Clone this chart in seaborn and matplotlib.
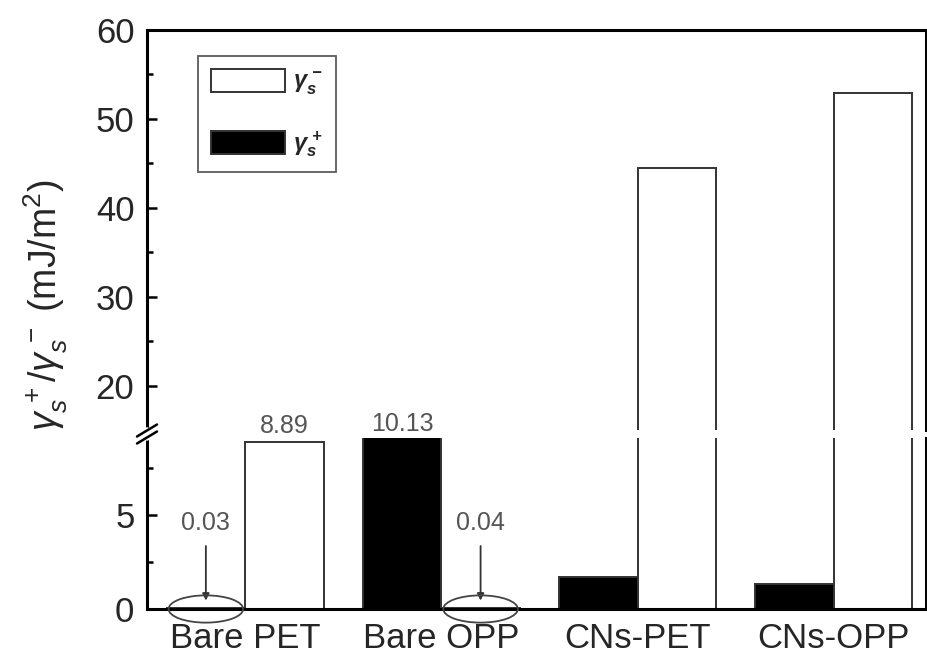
import numpy as np
import pandas as pd
import matplotlib
matplotlib.use("Agg")
import matplotlib.pyplot as plt
import seaborn as sns
from matplotlib.patches import Patch, Ellipse

# ---- data ----
categories = ["Bare PET", "Bare OPP", "CNs-PET", "CNs-OPP"]
gamma_plus = [0.03, 10.13, 1.70, 1.32]    # black bars
gamma_minus = [8.89, 0.04, 44.5, 52.9]    # white bars
series_names = ["plus", "minus"]

sns.set_theme(style="white")
plt.rcParams["font.family"] = ["Liberation Sans", "DejaVu Sans"]
plt.rcParams["mathtext.fontset"] = "custom"
plt.rcParams["mathtext.rm"] = "Liberation Sans"
plt.rcParams["mathtext.it"] = "Liberation Sans:italic"
plt.rcParams["mathtext.bf"] = "Liberation Sans:bold:italic"

df = pd.DataFrame({
    "cat": categories * 2,
    "series": ["plus"] * 4 + ["minus"] * 4,
    "value": gamma_plus + gamma_minus,
})
palette = {"plus": "black", "minus": "white"}

W, H = 928, 663
fig = plt.figure(figsize=(W / 100, H / 100), dpi=100)
left, right = 147 / W, 926 / W
y0, ybrk_lo, ybrk_hi, ytop = 609, 438, 430, 30
ax_lo = fig.add_axes([left, 1 - y0 / H, right - left, (y0 - ybrk_lo) / H])
ax_hi = fig.add_axes([left, 1 - ybrk_hi / H, right - left, (ybrk_hi - ytop) / H])
ax_hi.patch.set_visible(False)

for ax in (ax_lo, ax_hi):
    sns.barplot(data=df, x="cat", y="value", hue="series", hue_order=series_names,
                order=categories, palette=palette, edgecolor="#333333",
                linewidth=1.4, width=0.8, legend=False, ax=ax, saturation=1)
    ax.set_xlim(-0.5, 3.47)
    ax.set_xlabel("")
    ax.set_ylabel("")
    for s in ax.spines.values():
        s.set_color("black")
        s.set_linewidth(2.2)
    ax.tick_params(axis="y", which="both", direction="in", left=True, right=False,
                   labelsize=25, pad=9, color="black", width=1.8)
    ax.tick_params(axis="y", which="major", length=7)
    ax.tick_params(axis="y", which="minor", length=4)

ax_lo.set_ylim(0, 9.1)
ax_lo.set_yticks([0, 5])
ax_lo.set_yticks([2.5, 7.5], minor=True)
ax_lo.spines["top"].set_visible(False)
ax_lo.tick_params(axis="x", length=0, labelsize=25, pad=9)

ax_hi.set_ylim(15, 60)
ax_hi.set_yticks([20, 30, 40, 50, 60])
ax_hi.set_yticks([25, 35, 45, 55], minor=True)
ax_hi.spines["bottom"].set_visible(False)
ax_hi.set_xticks([])

# break marks on left spine
bx = left
fig.add_artist(plt.Line2D([bx, bx], [1 - 438 / H, 1 - 430 / H], color="white",
                          lw=4, transform=fig.transFigure, zorder=5))
for dy in (-3.5, 3.5):
    yc = 1 - (434 + dy) / H
    fig.add_artist(plt.Line2D([bx - 10 / W, bx + 10 / W], [yc - 6 / H, yc + 6 / H],
                              color="black", lw=1.8, transform=fig.transFigure, zorder=6))

# value labels
off = 0.2
txt_c = "#555555"
ax_lo.text(0 + off, gamma_minus[0] + 0.2, f"{gamma_minus[0]:.2f}", ha="center",
           va="bottom", fontsize=18, color=txt_c, clip_on=False, zorder=10)
ax_lo.text(1 - off, min(gamma_plus[1], 9.1) + 0.12, f"{gamma_plus[1]:.2f}", ha="center",
           va="bottom", fontsize=18, color=txt_c, clip_on=False, zorder=10)

for xc, val in [(0 - off, gamma_plus[0]), (1 + off, gamma_minus[1])]:
    ax_lo.text(xc, 4.6, f"{val:.2f}", ha="center", va="center", fontsize=18, color=txt_c)
    ax_lo.annotate("", xy=(xc, 0.3), xytext=(xc, 3.5),
                   arrowprops=dict(arrowstyle="-|>", color="#333333", lw=1.3,
                                   mutation_scale=10))
    ax_lo.add_patch(Ellipse((xc, 0.0), 0.38, 1.45, fill=False, edgecolor="#444444",
                            lw=1.3, clip_on=False, zorder=5))

# legend
handles = [Patch(facecolor="white", edgecolor="#333333", lw=1.4),
           Patch(facecolor="black", edgecolor="#333333", lw=1.4)]
labels = [r"$\mathbf{\gamma_s^{\,-}}$", r"$\mathbf{\gamma_s^{\,+}}$"]
leg = ax_hi.legend(handles, labels, loc="upper left", bbox_to_anchor=(0.066, 0.935),
                   fontsize=17, handlelength=3.1, handleheight=1.15, labelspacing=1.35,
                   borderpad=0.55, borderaxespad=0, handletextpad=0.35,
                   frameon=True, fancybox=False)
leg.get_frame().set_edgecolor("#333333")
leg.get_frame().set_linewidth(1.3)

fig.text(0.05, 1 - 305 / H, r"$\gamma_s^{\,+}/\gamma_s^{\,-}$ (mJ/m$^2$)", rotation=90,
         ha="center", va="center", fontsize=27)

fig.savefig("out.png", dpi=100)
